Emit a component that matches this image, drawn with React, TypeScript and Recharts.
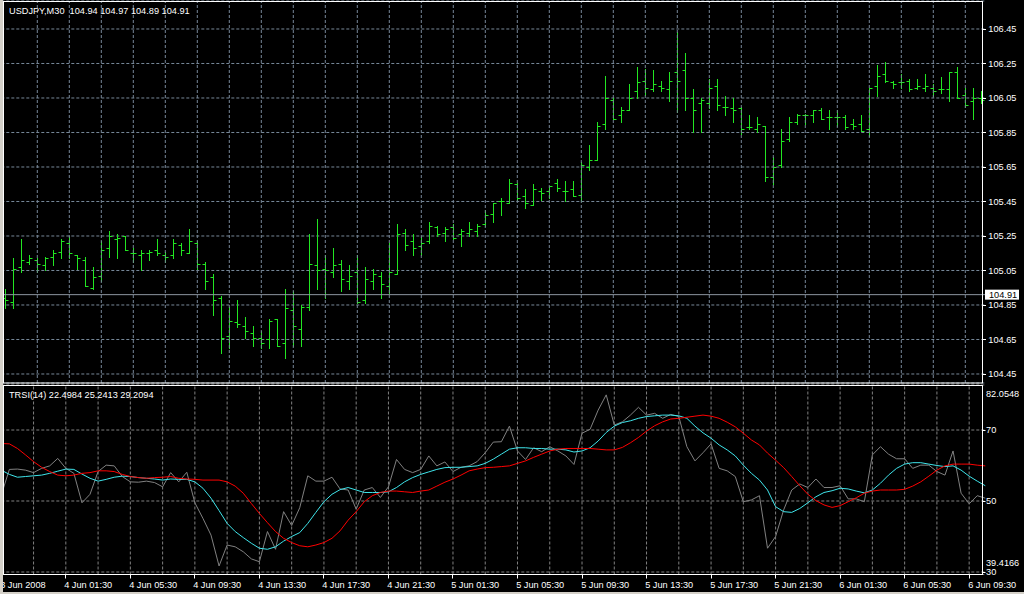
import React from "react";
import { ComposedChart, Bar, Line, XAxis, YAxis, ReferenceLine, CartesianGrid } from "recharts";

const opens = [
  104.89, 104.87, 105.07, 105.10, 105.11, 105.08, 105.13, 105.16, 105.21, 105.14, 105.11, 104.95, 105.02, 105.18, 105.23, 105.25, 105.15, 105.14, 105.15, 105.17, 105.14,
  105.14, 105.20, 105.15, 105.21, 105.09, 105.01, 104.89, 104.67, 104.75, 104.73, 104.69, 104.66, 104.65, 104.77, 104.63, 104.82, 104.71, 104.84, 105.08, 105.06, 105.04,
  105.09, 104.99, 105.04, 104.88, 104.99, 105.02, 104.96, 105.03, 105.27, 105.22, 105.19, 105.22, 105.30, 105.27, 105.30, 105.26, 105.27, 105.28, 105.32, 105.38, 105.45,
  105.44, 105.55, 105.48, 105.43, 105.51, 105.51, 105.56, 105.51, 105.52, 105.49, 105.65, 105.69, 105.90, 106.04, 105.95, 105.98, 106.09, 106.15, 106.10, 106.12, 106.10, 106.20,
  106.21, 106.05, 106.02, 106.02, 106.12, 106.00, 105.99, 105.99, 105.88, 105.87, 105.89, 105.59, 105.66, 105.81, 105.91, 105.95, 105.95, 105.98, 105.94,
  105.94, 105.94, 105.90, 105.90, 105.87, 106.12, 106.19, 106.14, 106.14, 106.15, 106.11, 106.11, 106.11, 106.10, 106.10, 106.20, 106.07, 106.03, 106.05,
];
const highs = [
  104.94, 105.12, 105.23, 105.14, 105.12, 105.13, 105.17, 105.23, 105.25, 105.14, 105.13, 105.07, 105.22, 105.28, 105.26, 105.25, 105.18, 105.17, 105.17, 105.23, 105.16,
  105.23, 105.21, 105.29, 105.22, 105.10, 105.03, 104.90, 104.84, 104.88, 104.78, 104.73, 104.70, 104.77, 104.77, 104.94, 104.93, 104.85, 105.26, 105.35, 105.14, 105.18,
  105.11, 105.08, 105.14, 105.07, 105.06, 105.04, 105.21, 105.32, 105.29, 105.26, 105.25, 105.33, 105.31, 105.30, 105.32, 105.29, 105.33, 105.32, 105.40, 105.44, 105.47,
  105.58, 105.56, 105.52, 105.55, 105.53, 105.54, 105.58, 105.57, 105.57, 105.68, 105.78, 105.91, 106.18, 106.05, 106.00, 106.13, 106.23, 106.22, 106.21, 106.15, 106.20, 106.43,
  106.31, 106.10, 106.05, 106.16, 106.16, 106.06, 106.05, 106.00, 105.95, 105.94, 105.89, 105.71, 105.87, 105.94, 105.96, 105.96, 105.98, 105.99, 105.98,
  105.98, 105.95, 105.93, 105.95, 106.11, 106.24, 106.26, 106.15, 106.19, 106.16, 106.16, 106.19, 106.13, 106.17, 106.20, 106.23, 106.11, 106.11, 106.09,
];
const lows = [
  104.83, 104.83, 105.04, 105.09, 105.04, 105.05, 105.08, 105.12, 105.12, 105.06, 104.96, 104.94, 104.99, 105.13, 105.12, 105.17, 105.10, 105.05, 105.11, 105.14, 105.10,
  105.12, 105.14, 105.15, 105.06, 104.94, 104.79, 104.57, 104.60, 104.72, 104.66, 104.61, 104.60, 104.60, 104.61, 104.54, 104.61, 104.61, 104.82, 104.94, 104.89, 105.01,
  104.93, 104.94, 104.86, 104.86, 104.94, 104.89, 104.92, 105.03, 105.17, 105.14, 105.14, 105.21, 105.25, 105.22, 105.23, 105.19, 105.25, 105.25, 105.31, 105.33, 105.37,
  105.44, 105.46, 105.41, 105.43, 105.46, 105.47, 105.51, 105.45, 105.48, 105.45, 105.63, 105.69, 105.87, 105.93, 105.91, 105.98, 106.05, 106.07, 106.09, 106.09, 106.03, 105.97,
  105.98, 105.85, 105.85, 105.99, 105.98, 105.95, 105.91, 105.84, 105.87, 105.85, 105.57, 105.55, 105.65, 105.80, 105.90, 105.90, 105.91, 105.93, 105.87,
  105.89, 105.87, 105.87, 105.86, 105.83, 106.06, 106.14, 106.11, 106.11, 106.09, 106.10, 106.09, 106.06, 106.08, 106.03, 106.05, 106.00, 105.93, 106.02,
];
const closes = [
  104.88, 105.06, 105.11, 105.12, 105.09, 105.12, 105.15, 105.22, 105.15, 105.12, 104.96, 105.01, 105.17, 105.25, 105.24, 105.17, 105.15, 105.15, 105.16, 105.15, 105.13,
  105.21, 105.17, 105.22, 105.09, 104.99, 104.88, 104.66, 104.76, 104.74, 104.70, 104.66, 104.63, 104.76, 104.61, 104.83, 104.73, 104.84, 105.09, 105.05, 105.05, 105.08,
  105.00, 105.02, 104.87, 105.00, 105.03, 104.97, 105.04, 105.26, 105.20, 105.18, 105.21, 105.31, 105.26, 105.29, 105.24, 105.28, 105.29, 105.31, 105.37, 105.44, 105.45,
  105.56, 105.47, 105.44, 105.52, 105.50, 105.54, 105.53, 105.51, 105.48, 105.66, 105.69, 105.89, 106.05, 105.93, 105.98, 106.05, 106.14, 106.11, 106.13, 106.11, 106.15, 106.15,
  106.05, 105.98, 106.04, 106.11, 106.01, 106.00, 105.98, 105.87, 105.88, 105.90, 105.59, 105.65, 105.80, 105.91, 105.95, 105.95, 105.98, 105.93, 105.94,
  105.94, 105.88, 105.89, 105.86, 106.11, 106.18, 106.15, 106.13, 106.14, 106.10, 106.12, 106.12, 106.09, 106.10, 106.20, 106.05, 106.01, 106.05, 106.04,
];

const trsiGray = [
  51.7, 58.9, 59.0, 58.7, 58.0, 59.2, 59.9, 62.0, 59.2, 57.8, 49.5, 51.9, 58.3, 60.1, 59.9, 56.9, 55.4, 55.3, 55.6, 55.2, 54.0,
  58.0, 55.4, 58.1, 49.5, 45.1, 40.4, 31.7, 37.6, 37.1, 35.7, 33.7, 32.9, 41.4, 36.4, 47.0, 43.1, 48.1, 57.1, 55.6, 55.6, 56.7,
  53.4, 53.1, 47.7, 53.1, 53.8, 51.0, 54.0, 61.7, 58.9, 58.0, 58.9, 62.7, 59.9, 61.0, 58.3, 59.5, 59.9, 61.1, 63.6, 66.6, 66.7,
  71.1, 64.1, 61.7, 65.0, 63.9, 65.3, 64.1, 62.7, 60.3, 69.1, 70.2, 75.6, 79.9, 71.4, 72.3, 74.2, 76.4, 74.2, 74.7, 73.3, 74.4, 73.8,
  65.3, 61.3, 63.6, 66.1, 59.2, 58.5, 56.9, 49.8, 50.3, 51.5, 36.7, 40.0, 47.5, 53.1, 54.8, 53.8, 56.2, 53.8, 53.8,
  54.3, 50.6, 50.6, 49.8, 63.0, 65.3, 63.2, 61.9, 61.9, 59.2, 60.1, 60.1, 58.3, 57.3, 64.1, 52.2, 49.2, 51.5, 50.8,
];
const trsiCyan = [
  58.7, 57.5, 56.7, 56.9, 57.1, 57.3, 57.8, 58.4, 59.0, 58.9, 57.6, 56.4, 55.6, 56.1, 56.7, 57.0, 56.9, 56.6, 56.4, 56.2, 55.9,
  56.2, 56.1, 56.1, 55.4, 53.6, 50.8, 47.3, 43.7, 41.4, 39.7, 38.1, 36.7, 36.4, 37.1, 38.7, 40.0, 41.1, 43.7, 46.8, 49.8, 51.9,
  53.2, 53.8, 53.1, 52.4, 52.4, 52.4, 52.6, 53.8, 55.4, 56.6, 57.5, 58.2, 58.9, 59.4, 59.5, 59.5, 59.7, 59.9, 60.6, 61.8, 63.2,
  64.6, 65.0, 65.0, 64.8, 64.8, 64.6, 64.6, 64.4, 63.8, 64.1, 65.0, 66.9, 69.3, 71.1, 72.1, 72.6, 73.3, 73.8, 74.0, 74.2, 74.2, 74.0,
  73.3, 71.1, 69.2, 67.7, 65.8, 64.4, 62.7, 60.1, 57.8, 55.9, 53.1, 48.4, 47.0, 46.8, 47.9, 49.5, 51.2, 52.4, 52.9,
  53.6, 53.4, 52.8, 52.3, 53.1, 55.0, 57.3, 59.2, 60.4, 60.8, 60.8, 60.4, 60.0, 59.7, 59.9, 58.7, 57.0, 55.6, 54.3,
];
const trsiRed = [
  66.2, 66.1, 64.8, 63.0, 61.1, 59.5, 58.3, 57.3, 57.1, 57.3, 57.8, 58.0, 58.5, 58.5, 58.3, 57.5, 56.9, 56.6, 56.4, 56.6, 56.7,
  56.9, 56.4, 56.2, 56.1, 55.9, 55.9, 55.9, 55.4, 54.2, 52.2, 49.3, 46.5, 43.9, 41.4, 39.5, 38.3, 37.4, 37.1, 37.6, 38.3, 39.5,
  41.6, 44.6, 47.0, 49.8, 51.5, 52.4, 52.8, 52.8, 52.6, 52.4, 52.8, 53.1, 54.2, 55.3, 56.2, 57.3, 58.5, 59.0, 59.4, 59.5, 59.7,
  59.9, 60.6, 61.3, 62.3, 63.2, 64.1, 64.6, 64.8, 64.8, 64.8, 64.8, 64.6, 64.4, 64.4, 65.1, 66.4, 67.9, 69.7, 71.2, 72.3, 73.1, 73.3,
  73.6, 73.9, 74.2, 73.9, 73.3, 72.2, 70.9, 69.1, 67.2, 65.8, 63.5, 61.5, 59.4, 56.9, 54.3, 51.9, 50.1, 48.9, 48.2,
  48.7, 49.8, 50.9, 52.2, 52.8, 53.1, 53.1, 53.1, 53.3, 54.2, 55.4, 57.0, 58.7, 59.9, 60.4, 60.4, 60.4, 60.1, 59.9,
];

const priceTicks = [104.45, 104.65, 104.85, 105.05, 105.25, 105.45, 105.65, 105.85, 106.05, 106.25, 106.45];
const trsiTicks = [30, 50, 70];
const timeLabels = [
  "3 Jun 2008", "4 Jun 01:30", "4 Jun 05:30", "4 Jun 09:30", "4 Jun 13:30", "4 Jun 17:30", "4 Jun 21:30", "5 Jun 01:30",
  "5 Jun 05:30", "5 Jun 09:30", "5 Jun 13:30", "5 Jun 17:30", "5 Jun 21:30", "6 Jun 01:30", "6 Jun 05:30", "6 Jun 09:30",
];
const labelBars = [0, 8, 16, 24, 32, 40, 48, 56, 64, 72, 80, 88, 96, 104, 112, 120];
const gridBars = [4, 8, 12, 16, 20, 24, 28, 32, 36, 40, 44, 48, 52, 56, 60, 64, 68, 72, 76, 80, 84, 88, 92, 96, 100, 104, 108, 112, 116, 120];
const lastPrice = 104.91;
const titleText = "USDJPY,M30  104.94 104.97 104.89 104.91";
const trsiText = "TRSI(14) 22.4984 25.2413 29.2094";
const trsiMaxLabel = "82.0548";
const trsiMinLabel = "39.4166";

const rows = opens.map((o, i) => ({
  i,
  open: o,
  high: highs[i],
  low: lows[i],
  close: closes[i],
  range: [lows[i], highs[i]],
  gray: trsiGray[i],
  cyan: trsiCyan[i],
  red: trsiRed[i],
}));

const FONT = '"Liberation Sans", Arial, sans-serif';
const FS = 9.2;
const GREEN = "#22e622";
const GRID_TOP = "#778899";
const GRID_BOT = "#808080";

const OhlcBar = (props: any) => {
  const { x, y, width, height, payload } = props;
  if (x == null || y == null || !payload) return null;
  const top = Math.min(y, y + height);
  const bot = Math.max(y, y + height);
  const span = payload.high - payload.low;
  const pos = (v: number) => (span > 0 ? top + ((payload.high - v) / span) * (bot - top) : top);
  const cx = Math.floor(x + width / 2) + 0.5;
  const oy = Math.round(pos(payload.open)) + 0.5;
  const cy = Math.round(pos(payload.close)) + 0.5;
  return (
    <g>
      <line x1={cx} x2={cx} y1={Math.round(top)} y2={Math.round(bot) + 1} stroke={GREEN} strokeWidth={1} />
      <line x1={cx - 3} x2={cx} y1={oy} y2={oy} stroke={GREEN} strokeWidth={1} />
      <line x1={cx} x2={cx + 3} y1={cy} y2={cy} stroke={GREEN} strokeWidth={1} />
    </g>
  );
};

const PriceTick = (props: any) => {
  const { x, y, payload } = props;
  return (
    <g>
      <line x1={x - 2.8} x2={x + 0.7} y1={Math.round(y) + 0.5} y2={Math.round(y) + 0.5} stroke="#ffffff" />
      <text x={x + 3} y={y + 3.4} fill="#ffffff" fontSize={FS} fontFamily={FONT}>
        {payload.value.toFixed(2)}
      </text>
    </g>
  );
};

const TrsiTick = (props: any) => {
  const { x, y, payload } = props;
  return (
    <g>
      <line x1={x - 2.8} x2={x + 0.2} y1={Math.round(y) + 0.5} y2={Math.round(y) + 0.5} stroke="#ffffff" />
      <text x={x + 0.8} y={y + 3.4} fill="#ffffff" fontSize={FS} fontFamily={FONT}>
        {String(payload.value)}
      </text>
    </g>
  );
};

const TimeTick = (props: any) => {
  const { x, y, payload } = props;
  const idx = labelBars.indexOf(Number(payload.value));
  const label = idx >= 0 ? timeLabels[idx] : "";
  const px = Math.floor(x) + 0.5;
  return (
    <g>
      <line x1={px} x2={px} y1={y} y2={y + 4} stroke="#ffffff" />
      <text x={px - 1.3} y={y + 13} fill="#ffffff" fontSize={FS} fontFamily={FONT}>
        {label}
      </text>
    </g>
  );
};

const PriceLabel = (props: any) => {
  const vb = props.viewBox || {};
  const yy = vb.y ?? 0;
  return (
    <g>
      <rect x={985} y={yy - 5} width={34} height={10} fill="#ffffff" />
      <text x={989} y={yy + 3.4} fill="#000000" fontSize={FS} fontFamily={FONT}>
        {lastPrice.toFixed(2)}
      </text>
    </g>
  );
};

export default function App() {
  return (
    <div style={{ position: "absolute", left: 0, top: 0, width: 1024, height: 594, background: "#000000", overflow: "hidden" }}>
      <div style={{ position: "absolute", left: 0, top: 0 }}>
        <ComposedChart width={1024} height={385} data={rows} margin={{ top: 1, right: 0, bottom: 2, left: 1.3 }}>
          <CartesianGrid vertical={false} stroke={GRID_TOP} strokeDasharray="3 2" />
          <XAxis dataKey="i" type="category" hide />
          <YAxis
            orientation="right"
            type="number"
            width={38.7}
            domain={[104.3978, 106.6123]}
            ticks={priceTicks}
            allowDataOverflow
            axisLine={false}
            tickLine={false}
            tickSize={0}
            tickMargin={0}
            tick={<PriceTick />}
            interval={0}
          />
          {gridBars.map((g) => (
            <ReferenceLine key={"vt" + g} x={g} stroke={GRID_TOP} strokeDasharray="3 2" />
          ))}
          <ReferenceLine y={lastPrice} stroke="#8c96a0" label={<PriceLabel />} />
          <Bar dataKey="range" shape={<OhlcBar />} isAnimationActive={false} />
        </ComposedChart>
      </div>
      <div style={{ position: "absolute", left: 0, top: 384 }}>
        <ComposedChart width={1024} height={210} data={rows} margin={{ top: 1, right: 0, bottom: 0, left: 1.3 }}>
          <CartesianGrid vertical={false} stroke={GRID_BOT} strokeDasharray="3 2" />
          <XAxis
            dataKey="i"
            type="category"
            height={19.5}
            ticks={labelBars}
            interval={0}
            axisLine={false}
            tickLine={false}
            tickSize={0}
            tickMargin={0}
            tick={<TimeTick />}
          />
          <YAxis
            orientation="right"
            type="number"
            width={38.7}
            domain={[29.3, 82.68]}
            ticks={trsiTicks}
            allowDataOverflow
            axisLine={false}
            tickLine={false}
            tickSize={0}
            tickMargin={0}
            tick={<TrsiTick />}
            interval={0}
          />
          {gridBars.map((g) => (
            <ReferenceLine key={"vb" + g} x={g} stroke={GRID_BOT} strokeDasharray="3 2" />
          ))}
          <Line type="linear" dataKey="gray" stroke="#808080" strokeWidth={1} dot={false} isAnimationActive={false} />
          <Line type="linear" dataKey="cyan" stroke="#3fe4ea" strokeWidth={1} dot={false} isAnimationActive={false} />
          <Line type="linear" dataKey="red" stroke="#ff0000" strokeWidth={1} dot={false} isAnimationActive={false} />
        </ComposedChart>
      </div>
      <svg width={1024} height={594} style={{ position: "absolute", left: 0, top: 0, pointerEvents: "none" }}>
        <rect x={0} y={0} width={3} height={594} fill="#d4d0c8" />
        <rect x={0} y={592} width={1024} height={2} fill="#d4d0c8" />
        <rect x={3.5} y={1.5} width={979} height={381.5} fill="none" stroke="#ffffff" strokeWidth={1} />
        <rect x={3.5} y={385.5} width={979} height={189} fill="none" stroke="#ffffff" strokeWidth={1} />
        <text x={9} y={14} fill="#ffffff" fontSize={FS} fontFamily={FONT} style={{ whiteSpace: "pre" }}>
          {titleText}
        </text>
        <text x={9} y={398} fill="#ffffff" fontSize={FS} fontFamily={FONT}>
          {trsiText}
        </text>
        <text x={986} y={396.5} fill="#ffffff" fontSize={FS} fontFamily={FONT}>
          {trsiMaxLabel}
        </text>
        <text x={986} y={565.5} fill="#ffffff" fontSize={FS} fontFamily={FONT}>
          {trsiMinLabel}
        </text>
      </svg>
    </div>
  );
}
